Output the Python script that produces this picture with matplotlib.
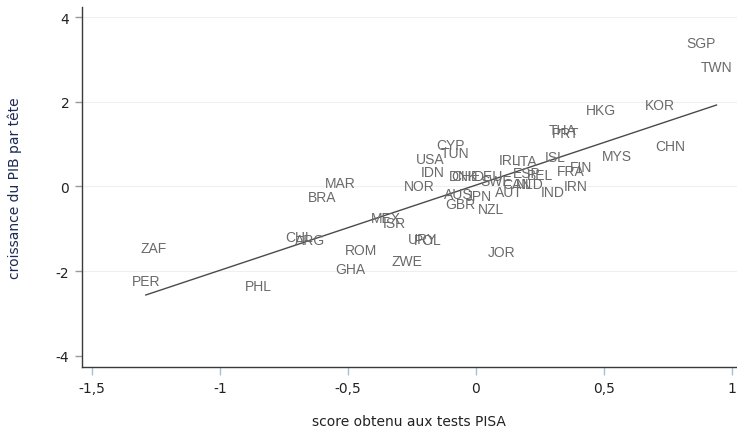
import numpy as np
import matplotlib
matplotlib.use("Agg")
import matplotlib.pyplot as plt

plt.rcParams["axes.unicode_minus"] = False

# country codes with PISA score (std) and GDP per capita growth
pays = ["SGP", "TWN", "HKG", "KOR", "CHN", "MYS", "THA", "PRT", "ISL", "FIN",
        "FRA", "IRN", "IND", "ITA", "IRL", "ESP", "BEL", "NLD", "CAN", "SWE",
        "DEU", "AUT", "DNK", "CHE", "JPN", "AUS", "GBR", "NZL", "CYP", "TUN",
        "USA", "IDN", "NOR", "MAR", "BRA", "MEX", "ISR", "URY", "POL", "CHL",
        "ARG", "ROM", "GHA", "ZWE", "JOR", "PHL", "PER", "ZAF"]
pisa = [0.88, 0.94, 0.49, 0.72, 0.76, 0.55, 0.34, 0.35, 0.31, 0.41,
        0.37, 0.39, 0.30, 0.20, 0.13, 0.20, 0.25, 0.21, 0.16, 0.08,
        0.05, 0.13, -0.05, -0.04, 0.01, -0.07, -0.06, 0.06, -0.10, -0.08,
        -0.18, -0.17, -0.22, -0.53, -0.60, -0.35, -0.32, -0.21, -0.19, -0.69,
        -0.65, -0.45, -0.49, -0.27, 0.10, -0.85, -1.29, -1.26]
croissance = [3.40, 2.83, 1.81, 1.93, 0.96, 0.73, 1.34, 1.27, 0.70, 0.46,
              0.37, 0.02, -0.14, 0.61, 0.63, 0.31, 0.28, 0.07, 0.05, 0.12,
              0.24, -0.12, 0.24, 0.24, -0.22, -0.18, -0.42, -0.54, 0.97, 0.80,
              0.64, 0.35, 0.00, 0.09, -0.26, -0.75, -0.87, -1.25, -1.27, -1.20,
              -1.27, -1.49, -1.96, -1.77, -1.56, -2.36, -2.24, -1.46]

xticks = [-1.5, -1, -0.5, 0, 0.5, 1]
xticklabels = ["-1,5", "-1", "-0,5", "0", "0,5", "1"]
yticks = [-4, -2, 0, 2, 4]

x = np.array(pisa)
y = np.array(croissance)

fig = plt.figure(figsize=(7.37, 4.31), dpi=100)
ax = fig.add_axes([0.111, 0.146, 0.889, 0.835])

for yt in [-2, 0, 2, 4]:
    ax.axhline(yt, color="#efefef", lw=0.8, zorder=0)

# linear fit over the observed range
b, a = np.polyfit(x, y, 1)
xs = np.array([x.min(), x.max()])
ax.plot(xs, a + b * xs, color="#4a4a4a", lw=1.0, zorder=2)

for p, xi, yi in zip(pays, x, y):
    ax.text(xi, yi, p, ha="center", va="center", fontsize=10,
            family="Liberation Sans", color="#6a6a6a", zorder=3)

ax.set_xlim(-1.54, 1.02)
ax.set_ylim(-4.27, 4.24)
ax.set_xticks(xticks)
ax.set_xticklabels(xticklabels)
ax.set_yticks(yticks)

for s in ["top", "right"]:
    ax.spines[s].set_visible(False)
for s in ["left", "bottom"]:
    ax.spines[s].set_color("#3a3a3a")
    ax.spines[s].set_linewidth(1.0)

ax.tick_params(axis="x", colors="#9fc3dc", length=6, width=1, labelsize=10,
               labelcolor="#222222", pad=4)
ax.tick_params(axis="y", colors="#9a9a9a", length=5, width=1, labelsize=10,
               labelcolor="#222222", pad=4)

ax.set_xlabel("score obtenu aux tests PISA", fontsize=10, color="#222222",
              labelpad=14)
ax.set_ylabel("croissance du PIB par tête", fontsize=10, color="#1c2a55",
              labelpad=24)

fig.savefig("out.png", dpi=100)
